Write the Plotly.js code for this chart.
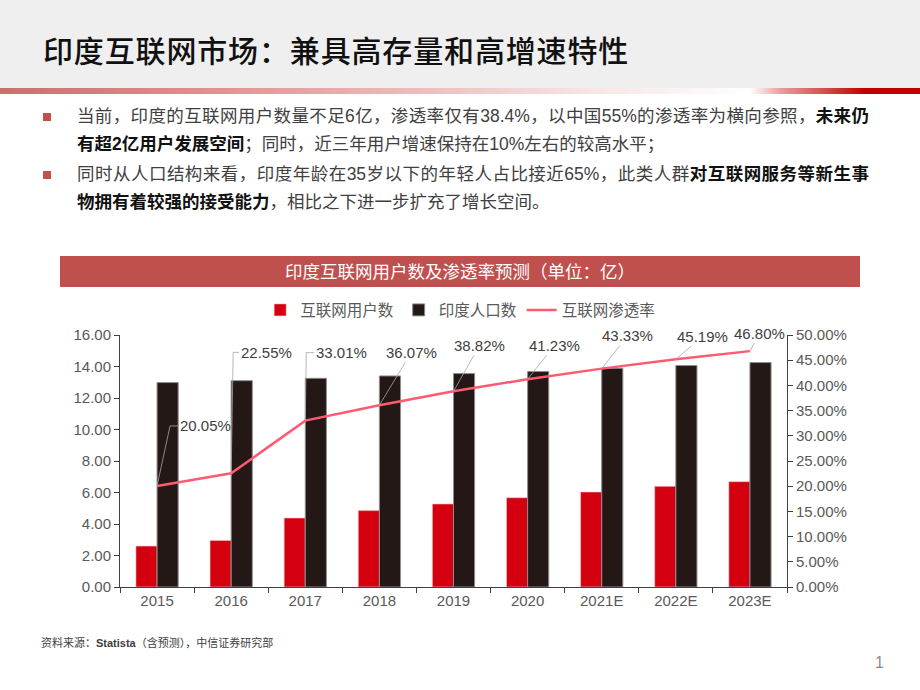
<!DOCTYPE html>
<html>
<head>
<meta charset="utf-8">
<script src="https://cdn.plot.ly/plotly-3.0.1.min.js"></script>
<style>
  html, body { margin:0; padding:0; background:#ffffff; }
  body { width:920px; height:690px; position:relative; overflow:hidden;
         font-family:"Liberation Sans", Arial, "Noto Sans CJK SC", sans-serif; }
  #hdr { position:absolute; left:0; top:0; width:920px; height:88px; background:#efefef; }
  #hdrTitle { position:absolute; left:43px; top:30px; font-size:30px; line-height:38px; color:#111;
              font-family:"Noto Sans CJK SC", sans-serif; font-weight:500; letter-spacing:0.85px; }
  #bar { position:absolute; left:0; top:88px; width:920px; height:6px;
         background:linear-gradient(to right, #cf6d6d 0%, #dc8c8c 20%, #ecbcbc 45%, #f8e6e6 65%, #ffffff 81.5%, #e79a9a 85%, #d65858 89%, #c00000 94%, #c00000 100%); }
  .sq { position:absolute; left:43px; width:8px; height:8px; background:#c0504d; }
  .ln { position:absolute; left:77px; width:792px; height:28px; line-height:28px; font-size:17.5px;
        color:#404040; white-space:nowrap; }
  .j { text-align:justify; text-align-last:justify; }
  .ln b { color:#111; font-weight:bold; }
  #src { position:absolute; left:41px; top:635px; font-size:11px; line-height:16px; color:#404040; white-space:nowrap; }
  #pg { position:absolute; left:875px; top:653px; font-size:16px; line-height:20px; color:#8c8c8c; }
  #chart { position:absolute; left:0; top:0; width:920px; height:690px; }
</style>
</head>
<body>
<div id="hdr"></div>
<div id="hdrTitle">印度互联网市场：兼具高存量和高增速特性</div>
<div id="bar"></div>

<div class="sq" style="top:113px;"></div>
<div class="ln j" style="top:102px;">当前，印度的互联网用户数量不足6亿，渗透率仅有38.4%，以中国55%的渗透率为横向参照，<b>未来仍</b></div>
<div class="ln" style="top:130px;"><b>有超2亿用户发展空间</b>；同时，近三年用户增速保持在10%左右的较高水平；</div>
<div class="sq" style="top:171px;"></div>
<div class="ln j" style="top:160px;">同时从人口结构来看，印度年龄在35岁以下的年轻人占比接近65%，此类人群<b>对互联网服务等新生事</b></div>
<div class="ln" style="top:188px;"><b>物拥有着较强的接受能力</b>，相比之下进一步扩充了增长空间。</div>

<div id="src">资料来源：<b>Statista</b>（含预测），中信证券研究部</div>
<div id="pg">1</div>

<div id="chart"></div>

<script>
// ---- data ----
var years = ["2015", "2016", "2017", "2018", "2019", "2020", "2021E", "2022E", "2023E"];
var internetUsers = [2.60, 2.96, 4.38, 4.85, 5.27, 5.67, 6.03, 6.39, 6.69];       // 亿
var population    = [12.98, 13.10, 13.25, 13.40, 13.55, 13.68, 13.89, 14.06, 14.25]; // 亿
var penetration   = [20.05, 22.55, 33.01, 36.07, 38.82, 41.23, 43.33, 45.19, 46.80]; // %
var seriesNames = ["互联网用户数", "印度人口数", "互联网渗透率"];
var chartTitle = "印度互联网用户数及渗透率预测（单位：亿）";

// label placement (pixel offsets from each point). elbow: [dx, dy] of the leader's bend
var labelStyle = [
  {elbow: [13, 60], end: 21},
  {elbow: [2, 121], end: 8},
  {elbow: [1, 68], end: 9},
  {ax: 32, ay: -53},
  {ax: 26, ay: -46},
  {ax: 27, ay: -34},
  {ax: 26, ay: -33},
  {ax: 27, ay: -23},
  {ax: 10, ay: -18}
];

var FONT = "Liberation Sans, Arial, Noto Sans CJK SC, sans-serif";
var CJK = "Noto Sans CJK SC, Liberation Sans, sans-serif";
var LEADER = "#a6a6a6";

var rate = penetration.map(function (v) { return v / 100; });

var traces = [
  {
    type: "bar", name: seriesNames[0], x: years, y: internetUsers,
    marker: { color: "#d40010", line: { color: "#f2c4c4", width: 0.6 } },
    hoverinfo: "x+y"
  },
  {
    type: "bar", name: seriesNames[1], x: years, y: population,
    marker: { color: "#231815", line: { color: "#8c8c8c", width: 1 } },
    hoverinfo: "x+y"
  },
  {
    type: "scatter", mode: "lines", name: seriesNames[2], x: years, y: rate, yaxis: "y2",
    line: { color: "#ff5a70", width: 2.5 },
    hoverinfo: "x+y"
  }
];

var annotations = [];
var shapes = [
  {
    type: "rect", xref: "paper", yref: "paper", layer: "below",
    x0: (60 - 120) / 667, x1: (860 - 120) / 667,
    y0: (587 - 287) / 252, y1: (587 - 256) / 252,
    fillcolor: "#c0504d", line: { width: 0 }
  }
];

// annotation x uses the category index (numeric-looking category names would be read as indices)
years.forEach(function (yr, i) {
  var s = labelStyle[i];
  var txt = penetration[i].toFixed(2) + "%";
  var font = { family: FONT, size: 15, color: "#404040" };
  if (s.elbow) {
    shapes.push({
      type: "path", xref: "x", yref: "y2",
      xsizemode: "pixel", ysizemode: "pixel", xanchor: i, yanchor: rate[i],
      path: "M0,0 L" + s.elbow[0] + "," + s.elbow[1] + " L" + s.end + "," + s.elbow[1],
      line: { color: LEADER, width: 0.8 }, layer: "above"
    });
    annotations.push({
      x: i, y: rate[i], xref: "x", yref: "y2", text: txt, showarrow: false,
      xanchor: "left", yanchor: "middle", xshift: s.end + 1, yshift: s.elbow[1],
      font: font, borderpad: 0
    });
  } else {
    annotations.push({
      x: i, y: rate[i], xref: "x", yref: "y2", text: txt,
      showarrow: true, arrowhead: 0, arrowwidth: 0.8, arrowcolor: LEADER,
      ax: s.ax, ay: s.ay, font: font, borderpad: 1
    });
  }
});

var layout = {
  width: 920, height: 690, autosize: false,
  margin: { l: 120, r: 133, t: 335, b: 103, pad: 0 },
  paper_bgcolor: "rgba(0,0,0,0)", plot_bgcolor: "rgba(0,0,0,0)",
  font: { family: FONT, color: "#595959" },
  title: {
    text: chartTitle, font: { family: CJK, size: 17.5, color: "#ffffff" },
    x: 0.5, xref: "container", xanchor: "center",
    y: 1 - 271.5 / 690, yref: "container", yanchor: "middle"
  },
  barmode: "group", bargap: 0.43, bargroupgap: 0,
  showlegend: true,
  legend: {
    orientation: "h", x: 0.51, xanchor: "center", y: 1.098, yanchor: "middle",
    font: { family: CJK, size: 15.5, color: "#595959" },
    bgcolor: "rgba(0,0,0,0)", itemwidth: 30, traceorder: "normal"
  },
  xaxis: {
    type: "category", range: [-0.5, years.length - 0.5], autorange: false,
    showline: true, linecolor: "#404040", linewidth: 1,
    ticks: "outside", tickson: "boundaries", ticklen: 5, tickcolor: "#404040",
    tickfont: { family: FONT, size: 15, color: "#595959" }, tickangle: 0,
    showgrid: false, zeroline: false, fixedrange: true
  },
  yaxis: {
    range: [0, 16], autorange: false, dtick: 2, tick0: 0, tickformat: ".2f",
    showline: true, linecolor: "#404040", linewidth: 1,
    ticks: "outside", ticklen: 5, tickcolor: "#404040",
    tickfont: { family: FONT, size: 15, color: "#595959" },
    showgrid: false, zeroline: false, fixedrange: true
  },
  yaxis2: {
    overlaying: "y", side: "right", range: [0, 0.5], autorange: false, dtick: 0.05, tick0: 0, tickformat: ".2%",
    showline: true, linecolor: "#404040", linewidth: 1,
    ticks: "outside", ticklen: 5, tickcolor: "#404040",
    tickfont: { family: FONT, size: 15, color: "#595959" },
    showgrid: false, zeroline: false, fixedrange: true
  },
  shapes: shapes,
  annotations: annotations
};

Plotly.newPlot("chart", traces, layout, { displayModeBar: false, staticPlot: true });
</script>
</body>
</html>
